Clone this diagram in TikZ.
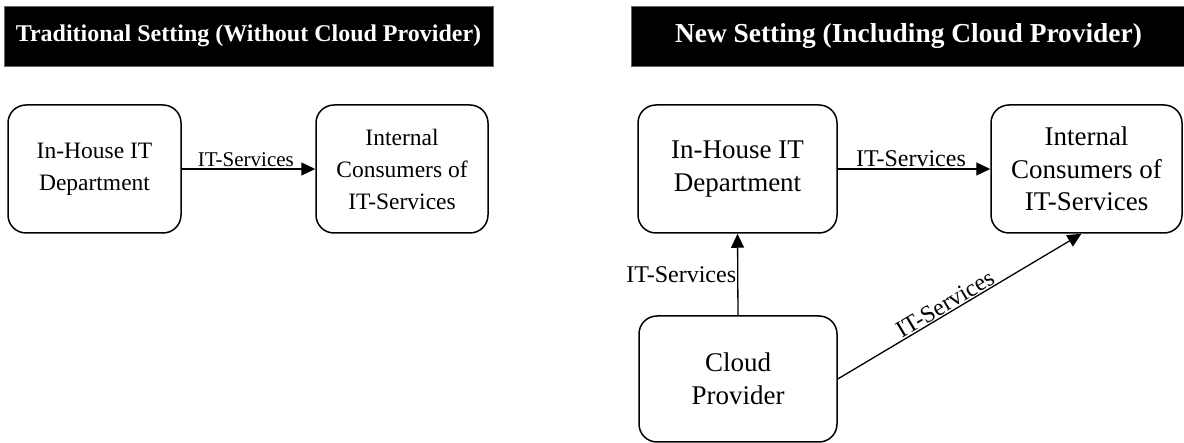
\documentclass[tikz,border=0pt]{standalone}
\usepackage{fontspec}
\setmainfont{Liberation Serif}
\usetikzlibrary{arrows.meta}
\begin{document}
\begin{tikzpicture}[x=1pt,y=-1pt,
  banner/.style={fill=black,draw=black!60,line width=0.6pt,text=white,font=\bfseries\fontsize{24}{28}\selectfont},
  bannerB/.style={banner,font=\bfseries\fontsize{27.4}{30}\selectfont},
  boxL/.style={draw=black,line width=1.5pt,rounded corners=18pt,align=center,inner sep=0pt,
     font=\fontsize{23.5}{32}\selectfont},
  boxR/.style={boxL,font=\fontsize{27}{32.5}\selectfont},
  conn/.style={line width=1.3pt,-{Triangle[length=14pt,width=13pt]}},
  lblL/.style={font=\fontsize{21}{24}\selectfont,inner sep=2pt},
  lblR/.style={font=\fontsize{24}{27}\selectfont,inner sep=2pt}
]
\useasboundingbox (0,0) rectangle (1184,443);
% banners
\node[banner,minimum width=489pt,minimum height=60pt,inner sep=0pt] (bl) at (248.5,36) {Traditional Setting (Without Cloud Provider)};
\node[bannerB,minimum width=555pt,minimum height=60pt,inner sep=0pt] (br) at (908.5,36) {New Setting (Including Cloud Provider)};
% left diagram
\node[boxL,minimum width=173pt,minimum height=128pt] (lih) at (94.5,169) {In-House IT\\Department};
\node[boxL,minimum width=172pt,minimum height=128pt] (lint) at (402,169) {Internal\\Consumers of\\IT-Services};
\draw[conn] (lih.east) -- node[lblL,above,pos=0.48] {IT-Services} (lint.west);
% right diagram
\node[boxR,minimum width=199pt,minimum height=128pt] (rih) at (737.5,169) {In-House IT\\Department};
\node[boxR,minimum width=191pt,minimum height=128pt] (rint) at (1086.5,169) {Internal\\Consumers of\\IT-Services};
\node[boxR,minimum width=198pt,minimum height=126pt] (cloud) at (738,379) {Cloud\\Provider};
\draw[conn] (rih.east) -- node[lblR,above,pos=0.48] {IT-Services} (rint.west);
\draw[conn] (cloud.north) -- node[lblR,left,inner sep=1pt] {IT-Services} (rih.south);
\draw[conn] (cloud.east) -- node[lblR,above,sloped,pos=0.46,inner sep=1pt] {IT-Services} ([xshift=-5pt]rint.south);
\end{tikzpicture}
\end{document}
